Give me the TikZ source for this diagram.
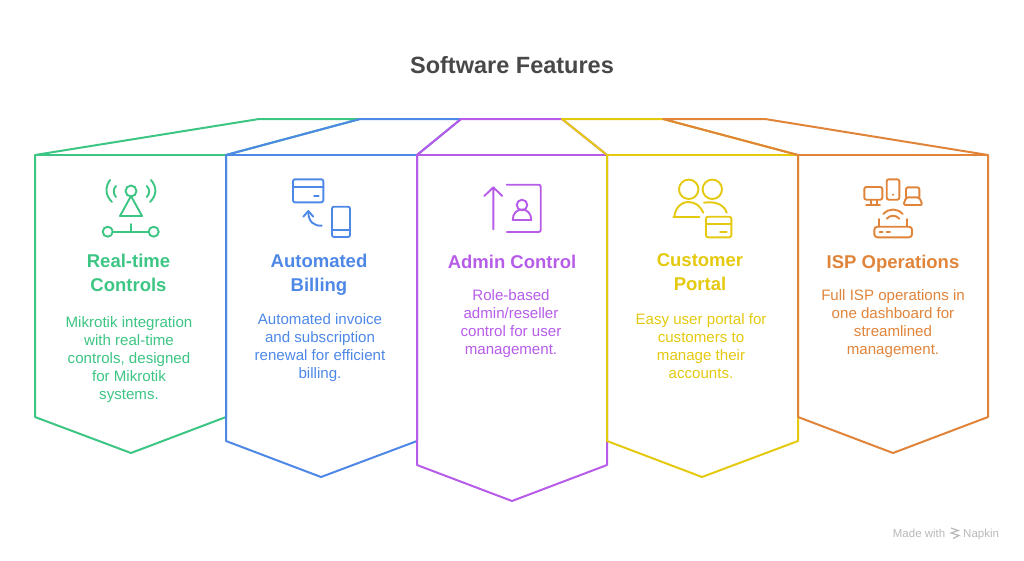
\documentclass[tikz,border=0pt]{standalone}
\usepackage{fontspec}
\setmainfont{Liberation Sans}
\definecolor{cgreen}{HTML}{3CC583}
\definecolor{cblue}{HTML}{4E88E7}
\definecolor{cpurple}{HTML}{B75CE8}
\definecolor{cyellow}{HTML}{E4C90F}
\definecolor{corange}{HTML}{E0843A}
\definecolor{ctitle}{HTML}{484848}
\definecolor{cnote}{HTML}{B8B8B8}
\begin{document}
\begin{tikzpicture}
    [x=1pt,y=-1pt,
     box/.style={line width=2pt,line join=round},
     ico/.style={line width=1.9pt,line join=round,line cap=round},
     head/.style={font=\fontsize{18.5}{24}\selectfont\bfseries,align=center,inner sep=0pt,
       execute at begin node=\strut,execute at end node=\strut},
     body/.style={font=\fontsize{15.1}{18}\selectfont,align=center,inner sep=0pt,
       execute at begin node=\strut,execute at end node=\strut}]
    \useasboundingbox (0,0) rectangle (1024,560);
    \node (T) [font=\fontsize{23.5}{28}\selectfont\bfseries,text=ctitle,inner sep=0pt] at (512,65.5) {Software Features};

    \draw [box,cgreen] (35,155) -- (259,119) -- (360,119) -- (226,155) -- (226,417) -- (131,453) -- (35,417) -- cycle;
    \draw [box,cgreen] (35,155) -- (226,155);
    \draw [box,cblue] (226,155) -- (360,119) -- (461,119) -- (417,155) -- (417,441) -- (321,477) -- (226,441) -- cycle;
    \draw [box,cblue] (226,155) -- (417,155);
    \draw [box,cpurple] (417,155) -- (461,119) -- (562,119) -- (607,155) -- (607,465) -- (512,501) -- (417,465) -- cycle;
    \draw [box,cpurple] (417,155) -- (607,155);
    \draw [box,cyellow] (607,155) -- (562,119) -- (663,119) -- (798,155) -- (798,441) -- (702,477) -- (607,441) -- cycle;
    \draw [box,cyellow] (607,155) -- (798,155);
    \draw [box,corange] (798,155) -- (663,119) -- (765,119) -- (988,155) -- (988,417) -- (893,453) -- (798,417) -- cycle;
    \draw [box,corange] (798,155) -- (988,155);

    \node (H1) [head,text=cgreen] at (128.5,276) {Real-time\\Controls};
    \node (H2) [head,text=cblue] at (319,276) {Automated\\Billing};
    \node (H3) [head,text=cpurple] at (512,264) {Admin Control};
    \node (H4) [head,text=cyellow] at (700,276) {Customer\\Portal};
    \node (H5) [head,text=corange] at (893,264) {ISP Operations};

    \node (B1) [body,text=cgreen] at (129,360.5) {Mikrotik integration\\with real-time\\controls, designed\\for Mikrotik\\systems.};
    \node (B2) [body,text=cblue] at (320,348.5) {Automated invoice\\and subscription\\renewal for efficient\\billing.};
    \node (B3) [body,text=cpurple] at (511,324.5) {Role-based\\admin/reseller\\control for user\\management.};
    \node (B4) [body,text=cyellow] at (701,348.5) {Easy user portal for\\customers to\\manage their\\accounts.};
    \node (B5) [body,text=corange] at (893,324.5) {Full ISP operations in\\one dashboard for\\streamlined\\management.};

    % antenna
    \draw [ico,cgreen] (131,191) circle (5.5);
    \draw [ico,cgreen] (131,196) -- (120,216) -- (142,216) -- cycle;
    \draw [ico,cgreen] (107.7,231.7) circle (5) (153.7,231.7) circle (5);
    \draw [ico,cgreen] (112.7,231.7) -- (148.7,231.7) (131,224) -- (131,231.7);
    \draw [ico,cgreen] (110,180) .. controls (105,187) and (105,195) .. (112,202);
    \draw [ico,cgreen] (116,186) .. controls (113,189) and (113,194) .. (116,197);
    \draw [ico,cgreen] (151,180) .. controls (157,187) and (157,195) .. (150,202);
    \draw [ico,cgreen] (146.7,186) .. controls (150,189) and (150,194) .. (146.7,197);
    % card and phone
    \draw [ico,cblue,rounded corners=2] (293,179.3) rectangle (323.3,202.3);
    \draw [ico,cblue] (293,187.3) -- (323.3,187.3) (314,196) -- (318.7,196);
    \draw [ico,cblue,rounded corners=2] (332,206.7) rectangle (350,237);
    \draw [ico,cblue] (332,230) -- (350,230);
    \draw [ico,cblue] (321.7,225.7) .. controls (314,226) and (308.3,222) .. (308.3,211.7);
    \draw [ico,cblue] (303.3,216.7) -- (308.3,211) -- (313.3,216.7);
    % admin
    \draw [ico,cpurple] (493.3,229.3) -- (493.3,187.3) (484.3,196) -- (493.3,187.3) -- (502.3,196);
    \draw [ico,cpurple,rounded corners=2] (506.7,184.7) -- (540.7,184.7) -- (540.7,232) -- (506.7,232);
    \draw [ico,cpurple] (522,205) circle (5.3);
    \draw [ico,cpurple] (512.7,220) .. controls (512.7,206) and (531.3,206) .. (531.3,220) -- cycle;
    % customers
    \draw [ico,cyellow] (688.7,189.3) circle (9.7) (712.3,189.3) circle (9.7);
    \draw [ico,cyellow] (673.3,217.3) -- (699.3,217.3);
    \draw [ico,cyellow] (674.3,217.3) .. controls (675,208) and (681,202) .. (688.7,202) .. controls (695,202) and (700.5,206) .. (703.3,212.7);
    \draw [ico,cyellow] (704,202.7) .. controls (714,201) and (724,204) .. (726.7,212.7);
    \draw [ico,cyellow,rounded corners=2] (706,216.7) rectangle (731.3,237.3);
    \draw [ico,cyellow] (706,224.3) -- (731.3,224.3) (720,232) -- (726.7,232);
    % devices
    \draw [ico,corange,rounded corners=2] (864.3,187) rectangle (882.3,199.7);
    \draw [ico,corange] (870.7,199.7) -- (870.7,205) (876.7,199.7) -- (876.7,205) (866,205) -- (880,205);
    \draw [ico,corange,rounded corners=2] (886.7,179.3) rectangle (899.3,199.7);
    \fill [corange] (893,194.7) circle (1.2);
    \draw [ico,corange,rounded corners=2] (906,197.3) -- (906,187.3) -- (919.3,187.3) -- (919.3,197.3);
    \draw [ico,corange,rounded corners=2] (906,197.3) -- (919.3,197.3) -- (922.5,205) -- (903.5,205) -- cycle;
    \draw [ico,corange] (883.3,214) .. controls (889,208) and (897,208) .. (902.7,214);
    \draw [ico,corange] (886.7,218.7) .. controls (890,214.7) and (896,214.7) .. (899.3,218.7);
    \draw [ico,corange,rounded corners=3] (874.3,226.7) rectangle (912,237.3);
    \draw [ico,corange] (879.3,219) -- (879.3,226.7) (906.7,219) -- (906.7,226.7);
    \draw [ico,corange] (879.5,232) -- (882.7,232) (886.5,232) -- (890,232);

    \node (M) [font=\fontsize{11.5}{13}\selectfont,text=cnote,inner sep=0pt,anchor=base east] at (945.5,537) {Made with};
    \node (N) [font=\fontsize{11.5}{13}\selectfont,text=cnote,inner sep=0pt,anchor=base west] at (963,537) {Napkin};
    \draw [line width=1.2pt,cnote] (951,528) -- (958,530.5) -- (951,533) -- (959,535.5) -- (953,538.5);
  \end{tikzpicture}
\end{document}
